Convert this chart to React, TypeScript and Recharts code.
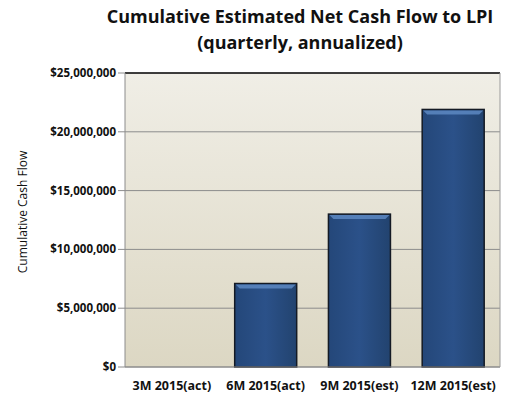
import React from "react";
import { BarChart, Bar, XAxis, YAxis, CartesianGrid, ReferenceLine } from "recharts";

const periods = ["3M 2015(act)", "6M 2015(act)", "9M 2015(est)", "12M 2015(est)"];
const cashFlow = [0, 7100000, 13000000, 21900000];
const yTicks = [0, 5000000, 10000000, 15000000, 20000000, 25000000];

const data = periods.map((p, i) => ({ period: p, value: cashFlow[i] }));

const font = "'Open Sans', 'DejaVu Sans', sans-serif";

const fmtMoney = (v: number) => "$" + v.toLocaleString("en-US");

// bevelled bar like the Excel original
const BevelBar = (props: any) => {
  const { x, y, width, height } = props;
  if (!height || height <= 0) return null;
  const b = 5;
  return (
    <g>
      <rect x={x} y={y} width={width} height={height} fill="url(#barFill)" stroke="#141a24" strokeWidth={1.5} />
      <polygon
        points={`${x + 1},${y + 1} ${x + width - 1},${y + 1} ${x + width - b},${y + b} ${x + b},${y + b}`}
        fill="#5d88c2"
        opacity={0.85}
      />
    </g>
  );
};

export default function App() {
  return (
    <div style={{ position: "absolute", left: 0, top: 0, width: 506, height: 400, background: "#fff", fontFamily: font }}>
      <div
        style={{
          position: "absolute",
          left: 90,
          width: 420,
          top: 3,
          textAlign: "center",
          fontSize: 18,
          fontWeight: 700,
          lineHeight: "26px",
          color: "#111",
        }}
      >
        Cumulative Estimated Net Cash Flow to LPI
        <br />
        (quarterly, annualized)
      </div>
      <BarChart
        width={506}
        height={400}
        data={data}
        margin={{ top: 73, right: 5, bottom: 7, left: 30 }}
        barCategoryGap="17%"
      >
        <defs>
          <linearGradient id="bgFill" x1="0" y1="0" x2="0" y2="1">
            <stop offset="0%" stopColor="#f0eee6" />
            <stop offset="100%" stopColor="#dcd7c3" />
          </linearGradient>
          <linearGradient id="barFill" x1="0" y1="0" x2="1" y2="0">
            <stop offset="0%" stopColor="#244779" />
            <stop offset="50%" stopColor="#2b5189" />
            <stop offset="100%" stopColor="#22436f" />
          </linearGradient>
        </defs>
        <CartesianGrid vertical={false} stroke="#8c8c8c" strokeWidth={1} fill="url(#bgFill)" />
        <XAxis
          dataKey="period"
          height={26}
          tickLine={false}
          axisLine={{ stroke: "#8c8c8c" }}
          tick={{ fontSize: 12.5, fontWeight: 700, fill: "#111", fontFamily: font }}
          tickMargin={8}
          interval={0}
        />
        <YAxis
          width={95}
          domain={[0, 25000000]}
          ticks={yTicks}
          tickFormatter={fmtMoney}
          tickSize={7}
          tickLine={{ stroke: "#8c8c8c" }}
          axisLine={{ stroke: "#8c8c8c" }}
          tick={{ fontSize: 11.5, fontWeight: 700, fill: "#111", fontFamily: font }}
          label={{
            value: "Cumulative Cash Flow",
            angle: -90,
            position: "insideLeft",
            dx: -12,
            dy: -8,
            style: { fontSize: 12, fill: "#111", fontFamily: font, textAnchor: "middle" },
          }}
        />
        <YAxis
          yAxisId="right"
          orientation="right"
          width={1}
          tick={false}
          tickLine={false}
          axisLine={{ stroke: "#9a9a9a" }}
        />
        <ReferenceLine y={25000000} stroke="#111" strokeWidth={1.5} />
        <Bar dataKey="value" shape={BevelBar} isAnimationActive={false} />
      </BarChart>
    </div>
  );
}
